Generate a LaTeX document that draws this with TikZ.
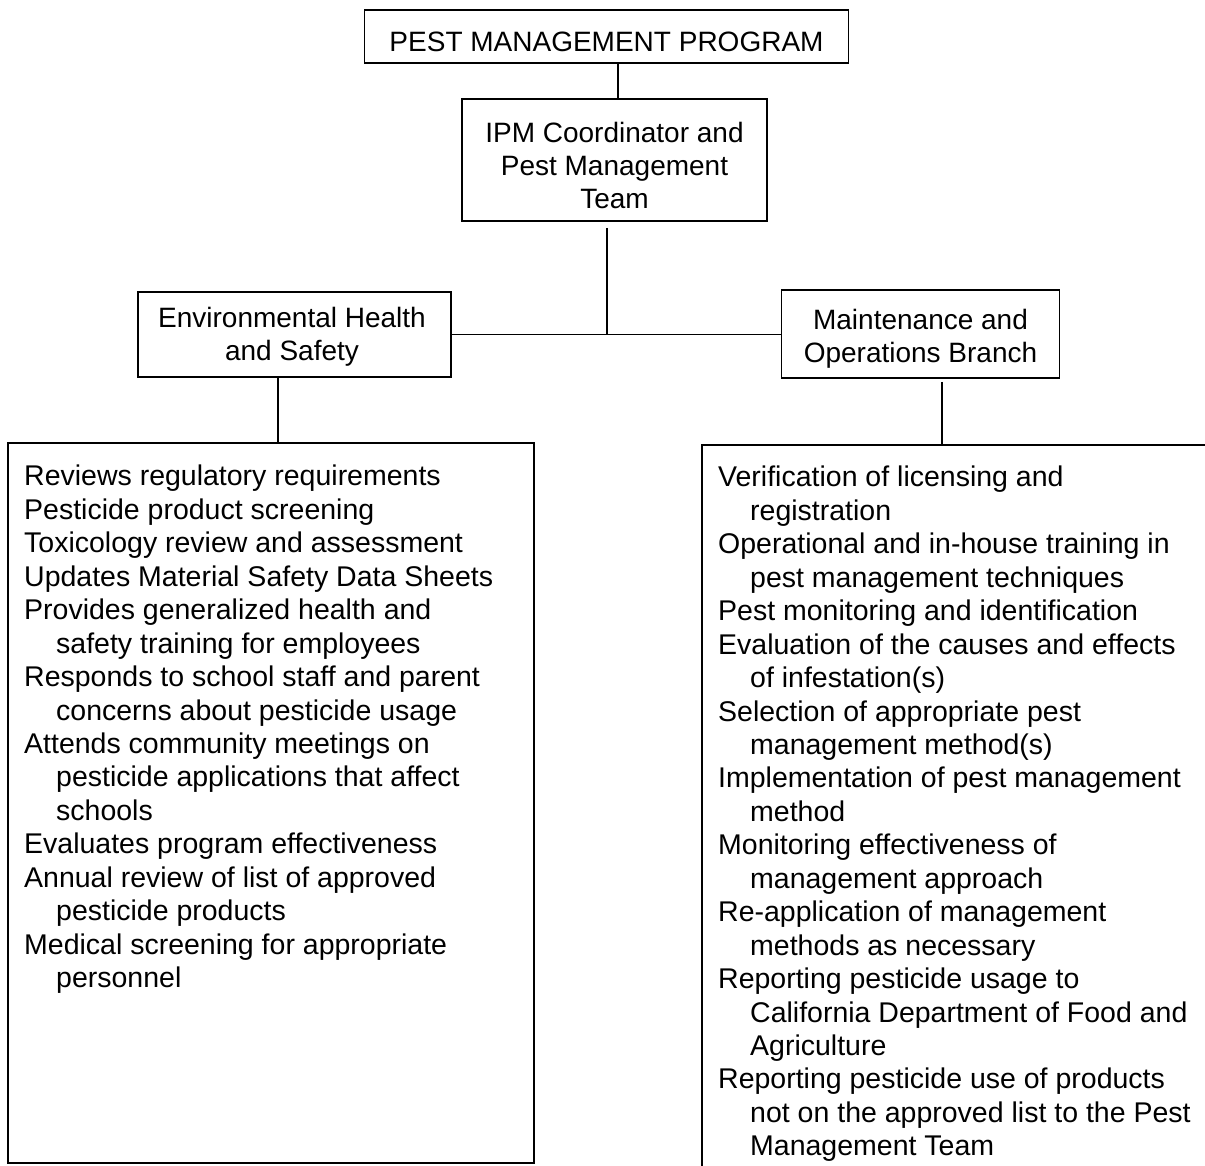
\documentclass[tikz,border=0pt]{standalone}
\usepackage{fontspec}
\setmainfont{Liberation Sans}
\newcommand\myind{\hspace*{32pt}}
\begin{document}
\begin{tikzpicture}[x=1pt,y=-1pt]
\useasboundingbox[fill=white] (0,0) rectangle (1205,1166);
\tikzset{
  hbox/.style={draw, line width=1.8pt, inner sep=0, fill=none},
  htext/.style={align=center, inner sep=0, font=\fontsize{28}{33}\selectfont},
  ltext/.style={align=left, inner sep=0, anchor=north west, font=\fontsize{28.5}{33.45}\selectfont},
  link/.style={line width=1.3pt}
}
% boxes
\node[hbox, minimum width=484pt, minimum height=53pt] (top) at (606.5,36.5) {};
\node[htext] (toptext) at (606.5,42) {PEST MANAGEMENT PROGRAM};
\node[hbox, minimum width=305pt, minimum height=122pt] (ipm) at (614.5,160) {};
\node[htext] (ipmtext) at (614.5,165) {IPM Coordinator and\\Pest Management\\Team};
\node[hbox, minimum width=313pt, minimum height=85pt] (eh) at (294.5,334.5) {};
\node[htext] (ehtext) at (292,337) {Environmental Health\\and Safety};
\node[hbox, minimum width=278pt, minimum height=88pt] (m) at (920.5,334) {};
\node[htext] (mtext) at (920.5,338.5) {Maintenance and\\Operations Branch};
\node[hbox, minimum width=526pt, minimum height=720pt] (lb) at (271,803) {};
\node[hbox, minimum width=513pt, minimum height=730pt] (rb) at (958.5,810) {};
% lists
\node[ltext] (ltxt) at (24,465) {Reviews regulatory requirements\\
Pesticide product screening\\
Toxicology review and assessment\\
Updates Material Safety Data Sheets\\
Provides generalized health and\\
\myind safety training for employees\\
Responds to school staff and parent\\
\myind concerns about pesticide usage\\
Attends community meetings on\\
\myind pesticide applications that affect\\
\myind schools\\
Evaluates program effectiveness\\
Annual review of list of approved\\
\myind pesticide products\\
Medical screening for appropriate\\
\myind personnel};
\node[ltext] (rtxt) at (718,466) {Verification of licensing and\\
\myind registration\\
Operational and in-house training in\\
\myind pest management techniques\\
Pest monitoring and identification\\
Evaluation of the causes and effects\\
\myind of infestation(s)\\
Selection of appropriate pest\\
\myind management method(s)\\
Implementation of pest management\\
\myind method\\
Monitoring effectiveness of\\
\myind management approach\\
Re-application of management\\
\myind methods as necessary\\
Reporting pesticide usage to\\
\myind California Department of Food and\\
\myind Agriculture\\
Reporting pesticide use of products\\
\myind not on the approved list to the Pest\\
\myind Management Team};
% connectors
\draw[link] ([xshift=11.5pt]top.south) -- ([xshift=3.5pt]ipm.north);
\draw[link] ([xshift=-7.5pt,yshift=-6pt]ipm.south) -- ([xshift=-7.5pt]ipm.south |- eh.east);
\draw[link] (eh.east) -- (eh.east -| m.west);
\draw[link] ([xshift=-16.5pt]eh.south) -- ([xshift=-16.5pt]eh.south |- lb.north);
\draw[link] ([xshift=21.5pt,yshift=-3pt]m.south) -- ([xshift=21.5pt]m.south |- rb.north);
\end{tikzpicture}
\end{document}
